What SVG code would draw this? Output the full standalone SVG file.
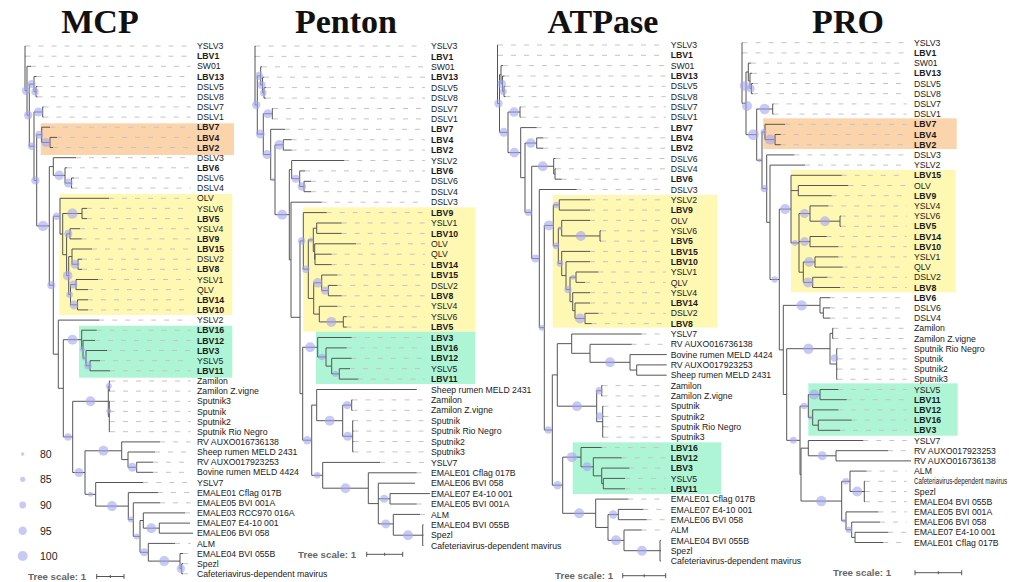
<svg xmlns="http://www.w3.org/2000/svg" width="1009" height="582" viewBox="0 0 1009 582">
<style>
.br{fill:none;stroke:#555;stroke-width:1}
.ld{fill:none;stroke:#c4c4c4;stroke-width:1;stroke-dasharray:5 8}
.bs{fill:#a5a5f0;fill-opacity:.6}
.lb{font-family:"Liberation Sans",Arial,sans-serif;font-size:8.7px;fill:#1a1a1a}
.b{font-weight:bold}
.tt{font-family:"Liberation Serif","Times New Roman",serif;font-size:34px;font-weight:bold;fill:#111;text-anchor:middle}
.sc{font-family:"Liberation Sans",Arial,sans-serif;font-size:9.7px;font-weight:bold;fill:#666}
.lg{font-family:"Liberation Sans",Arial,sans-serif;font-size:10.5px;fill:#222}
.or{fill:#fbd4ab}.ye{fill:#fff8b3}.gr{fill:#aef5d6}
</style>
<rect width="1009" height="582" fill="#fff"/>

<g id="titles">
<text class="tt" x="100" y="33">MCP</text>
<text class="tt" x="346" y="33">Penton</text>
<text class="tt" x="603" y="33">ATPase</text>
<text class="tt" x="848" y="33">PRO</text>
</g>

<g id="clade-boxes">
<rect class="or" x="40.7" y="123.3" width="193.3" height="31.7"/>
<rect class="ye" x="59.3" y="194" width="173" height="121"/>
<rect class="gr" x="79" y="325.7" width="153.3" height="52"/>
<rect class="ye" x="303.3" y="207.3" width="172" height="124.4"/>
<rect class="gr" x="316" y="331.7" width="159.3" height="52.3"/>
<rect class="ye" x="552.7" y="195" width="164.6" height="132.7"/>
<rect class="gr" x="572.7" y="442.3" width="148.6" height="51.7"/>
<rect class="or" x="763.3" y="118.3" width="193.4" height="30.7"/>
<rect class="ye" x="791" y="170" width="164.7" height="122.3"/>
<rect class="gr" x="808.3" y="383.3" width="149.4" height="52.4"/>
</g>

<g id="connectors">
<path id="mcp-leaders" class="ld" d="M25.5 46H190.7M25.5 56.2H190.7M31 66.3H190.7M36.5 76.5H190.7M37.5 86.6H190.7M37.5 96.8H190.7M43.5 106.9H190.7M43.5 117.1H190.7M50 127.2H190.7M57 137.4H190.7M53 147.5H190.7M76 157.7H190.7M67 167.8H190.7M74 178H190.7M72.5 188.1H190.7M109 198.3H190.7M87 208.4H190.7M87 218.6H190.7M80 228.7H190.7M81.7 238.9H190.7M92 249H190.7M82 259.2H190.7M82 269.3H190.7M98 279.5H190.7M88 289.6H190.7M88 299.8H190.7M88 309.9H190.7M99.3 320.1H190.7M96.7 330.2H190.7M95 340.4H190.7M107 350.5H190.7M100 360.7H190.7M110 370.8H190.7M110 381H190.7M110 391.1H190.7M110 401.3H190.7M110 411.4H190.7M110 421.6H190.7M110 431.7H190.7M160 441.9H190.7M155 452H190.7M153 462.2H190.7M153 472.3H190.7M143.3 482.5H190.7M158 492.6H190.7M160 502.8H190.7M185 512.9H190.7M175 543.4H190.7M183 553.5H190.7M183 563.7H190.7M183 573.8H190.7"/>
<path id="mcp-branches" class="br" d="M25 46V90.7M25 46H25.5M25 56.2H25.5M25 90.7H27M27 66.3V115.15M27 66.3H31M27 115.15H29.3M29.3 84.1V146.2M29.3 84.1H34M29.3 146.2H34M34 76.5V91.7M34 76.5H36.5M34 91.7H36M36 86.6V96.8M36 86.6H37.5M36 96.8H37.5M34 112V180.35M34 112H42.7M34 180.35H36.7M42.7 106.9V117.1M42.7 106.9H43.5M42.7 117.1H43.5M36.7 134.8V225.9M36.7 134.8H41.7M36.7 225.9H49.3M41.7 127.2V142.45M41.7 127.2H50M41.7 142.45H50M50 137.4V147.5M50 137.4H57M50 147.5H53M49.3 166.6V285.2M49.3 166.6H53.3M49.3 285.2H53.3M53.3 157.7V175.4M53.3 157.7H76M53.3 175.4H65M65 167.8V183.05M65 167.8H67M65 183.05H71.5M71.5 178V188.1M71.5 178H74M71.5 188.1H72.5M53.3 216.2V354.2M53.3 216.2H60M53.3 354.2H58.3M60 198.3V234.1M60 198.3H109M60 234.1H62.7M62.7 213.5V254.7M62.7 213.5H82M62.7 254.7H66.6M82 208.4V218.6M82 208.4H87M82 218.6H87M66.6 233.8V275.65M66.6 233.8H70M66.6 275.65H68.7M70 228.7V238.9M70 228.7H80M70 238.9H81.7M68.7 256.6V294.7M68.7 256.6H72M68.7 294.7H70.5M72 249V264.25M72 249H92M72 264.25H78M78 259.2V269.3M78 259.2H82M78 269.3H82M70.5 284.55V304.85M70.5 284.55H76M70.5 304.85H77.5M76 279.5V289.6M76 279.5H98M76 289.6H88M77.5 299.8V309.9M77.5 299.8H88M77.5 309.9H88M58.3 320.1V388.3M58.3 320.1H99.3M58.3 388.3H63.3M63.3 339.7V436.9M63.3 339.7H81.7M63.3 436.9H72.7M81.7 330.2V349.25M81.7 330.2H96.7M81.7 349.25H83M83 340.4V358.1M83 340.4H95M83 358.1H86M86 350.5V365.75M86 350.5H107M86 365.75H90M90 360.7V370.8M90 360.7H100M90 370.8H110M72.7 401.3V472.5M72.7 401.3H108.3M72.7 472.5H85M108.3 386.05V416.5M108.3 386.05H109.3M108.3 416.5H109.3M109.3 381V391.1M109.3 381H110M109.3 391.1H110M109.3 401.3V431.7M109.3 401.3H110M109.3 411.4H110M109.3 421.6H110M109.3 431.7H110M85 450.8V494.3M85 450.8H121.7M85 494.3H95.7M121.7 441.9V459.6M121.7 441.9H160M121.7 459.6H128M128 452V467.25M128 452H155M128 467.25H136.7M136.7 462.2V472.3M136.7 462.2H153M136.7 472.3H153M95.7 482.5V506.1M95.7 482.5H143.3M95.7 506.1H128.3M128.3 492.6V519.6M128.3 492.6H158M128.3 519.6H133.3M133.3 502.8V536.4M133.3 502.8H160M133.3 536.4H140M140 520.5V552.3M140 520.5H143.3M140 552.3H148.3M143.3 512.9V528.15M143.3 512.9H185M143.3 528.15H159.3M159.3 523.1V533.2M159.3 523.1H190M159.3 533.2H193M148.3 543.4V561.1M148.3 543.4H175M148.3 561.1H180M180 553.5V568.75M180 553.5H183M180 568.75H181.7M181.7 563.7V573.8M181.7 563.7H183M181.7 573.8H183"/>

<path id="penton-leaders" class="ld" d="M255.5 46H425M255.5 56.4H425M262 66.8H425M264 77.2H425M266 87.6H425M266 98.1H425M273 108.5H425M273 118.9H425M285 129.3H425M291.7 139.7H425M291.7 150.1H425M344.3 160.5H425M305 170.9H425M311 181.3H425M311 191.7H425M321.7 202.2H425M326.7 212.6H425M341.7 223H425M341.7 233.4H425M356 243.8H425M331.7 254.2H425M331.7 264.6H425M337.3 275H425M337.3 285.4H425M341.7 295.8H425M337.3 306.3H425M346.7 316.7H425M346.7 327.1H425M351.7 337.5H425M346.7 347.9H425M351.7 358.3H425M350 368.7H425M358.3 379.1H425M352.5 399.9H425M352.5 410.3H425M353.5 420.7H425M353.5 431.1H425M353.5 441.5H425M353.5 451.9H425M380 462.4H425M416.7 472.8H425M416.7 504H425M420 514.4H425"/>
<path id="penton-branches" class="br" d="M255 46V105M255 46H255.5M255 56.4H255.5M255 105H257.3M257.3 75.9V134.1M257.3 75.9H260.7M257.3 134.1H263.3M260.7 66.8V85M260.7 66.8H262M260.7 85H262.5M262.5 77.2V92.85M262.5 77.2H264M262.5 92.85H264M264 87.6V98.1M264 87.6H266M264 98.1H266M263.3 113.7V154.55M263.3 113.7H272.3M263.3 154.55H270.7M272.3 108.5V118.9M272.3 108.5H273M272.3 118.9H273M270.7 129.3V179.8M270.7 129.3H285M270.7 179.8H275M275 144.9V214.7M275 144.9H283.3M275 214.7H289.3M283.3 139.7V150.1M283.3 139.7H291.7M283.3 150.1H291.7M289.3 169.6V259.8M289.3 169.6H291.7M289.3 259.8H291M291.7 160.5V178.7M291.7 160.5H344.3M291.7 178.7H299.7M299.7 170.9V186.5M299.7 170.9H305M299.7 186.5H304M304 181.3V191.7M304 181.3H311M304 191.7H311M291 202.2V317.3M291 202.2H321.7M291 317.3H300M300 240.9V393.7M300 240.9H303.3M300 393.7H302.7M303.3 212.6V269.2M303.3 212.6H326.7M303.3 269.2H308.3M308.3 239.9V298.45M308.3 239.9H313.3M308.3 298.45H313.7M313.3 228.2V251.6M313.3 228.2H316.7M313.3 251.6H314.7M316.7 223V233.4M316.7 223H341.7M316.7 233.4H341.7M314.7 243.8V259.4M314.7 243.8H356M314.7 259.4H315M315 254.2V264.6M315 254.2H331.7M315 264.6H331.7M313.7 282.8V314.1M313.7 282.8H321.7M313.7 314.1H319.3M321.7 275V290.6M321.7 275H337.3M321.7 290.6H328.3M328.3 285.4V295.8M328.3 285.4H337.3M328.3 295.8H341.7M319.3 306.3V321.9M319.3 306.3H337.3M319.3 321.9H343.3M343.3 316.7V327.1M343.3 316.7H346.7M343.3 327.1H346.7M302.7 347.25V440.2M302.7 347.25H317.7M302.7 440.2H311.7M317.7 337.5V357M317.7 337.5H351.7M317.7 357H326M326 347.9V366.1M326 347.9H346.7M326 366.1H331.7M331.7 358.3V373.9M331.7 358.3H351.7M331.7 373.9H339.3M339.3 368.7V379.1M339.3 368.7H350M339.3 379.1H358.3M311.7 405.1V475.3M311.7 405.1H316.7M311.7 475.3H322.7M316.7 389.5V420.7M316.7 389.5H416.7M316.7 420.7H342.7M342.7 405.1V436.3M342.7 405.1H351.7M342.7 436.3H352.7M351.7 399.9V410.3M351.7 399.9H352.5M351.7 410.3H352.5M352.7 420.7V451.9M352.7 420.7H353.5M352.7 431.1H353.5M352.7 441.5H353.5M352.7 451.9H353.5M322.7 462.4V488.2M322.7 462.4H380M322.7 488.2H368.3M368.3 472.8V503.6M368.3 472.8H416.7M368.3 503.6H378.3M378.3 483.2V523.9M378.3 483.2H415M378.3 498.8H390M378.3 523.9H393.3M390 493.6V504M390 493.6H430M390 504H416.7M393.3 514.4V535.2M393.3 514.4H420M393.3 535.2H422.7M422.7 524.8V545.6M422.7 524.8H423.5M422.7 535.2H423.5M422.7 545.6H423.5"/>

<path id="atpase-leaders" class="ld" d="M498 45H665.7M498 55.3H665.7M503 65.6H665.7M504.5 76H665.7M505.5 86.3H665.7M505.5 96.6H665.7M520.7 106.9H665.7M520.7 117.2H665.7M536.7 127.6H665.7M543.3 137.9H665.7M543.3 148.2H665.7M555.5 158.5H665.7M556 168.8H665.7M561.7 179.2H665.7M576.7 189.5H665.7M590 199.8H665.7M590 210.1H665.7M590 220.4H665.7M601 230.8H665.7M601 241.1H665.7M590 251.4H665.7M590 261.7H665.7M598.3 272H665.7M585 282.4H665.7M590 292.7H665.7M590 303H665.7M598.3 313.3H665.7M591.7 323.6H665.7M641.7 334H665.7M631.7 344.3H665.7M602.5 385.6H665.7M602.5 395.9H665.7M603.5 406.2H665.7M603.5 416.5H665.7M603.5 426.8H665.7M603.5 437.2H665.7M601.7 447.5H665.7M621.7 457.8H665.7M629.3 468.1H665.7M625 478.4H665.7M625 488.8H665.7M628.3 499.1H665.7M643.3 509.4H665.7M646.7 519.7H665.7M641.7 530H665.7"/>
<path id="atpase-branches" class="br" d="M497.5 45V103.5M497.5 45H498M497.5 55.3H498M497.5 103.5H499.5M499.5 74.7V132.35M499.5 74.7H501M499.5 132.35H508M501 65.6V83.7M501 65.6H503M501 83.7H502.5M502.5 76V91.45M502.5 76H504.5M502.5 91.45H504M504 86.3V96.6M504 86.3H505.5M504 96.6H505.5M508 112.05V152.65M508 112.05H520M508 152.65H520.7M520 106.9V117.2M520 106.9H520.7M520 117.2H520.7M520.7 127.6V177.7M520.7 127.6H536.7M520.7 177.7H525M525 143.05V212.4M525 143.05H536.7M525 212.4H531.7M536.7 137.9V148.2M536.7 137.9H543.3M536.7 148.2H543.3M531.7 166.25V258.6M531.7 166.25H553.7M531.7 258.6H539.3M553.7 158.5V174M553.7 158.5H555.5M553.7 174H555M555 168.8V179.2M555 168.8H556M555 179.2H561.7M539.3 189.5V327.7M539.3 189.5H576.7M539.3 327.7H544.3M544.3 225.4V430.05M544.3 225.4H553.3M544.3 430.05H552.3M553.3 204.95V245.85M553.3 204.95H559.3M553.3 245.85H558.3M559.3 199.8V210.1M559.3 199.8H590M559.3 210.1H590M558.3 228.2V263.5M558.3 228.2H561.7M558.3 263.5H561.7M561.7 220.4V235.95M561.7 220.4H590M561.7 235.95H600M600 230.8V241.1M600 230.8H601M600 241.1H601M561.7 251.4V275.6M561.7 251.4H590M561.7 275.6H566M566 261.7V289.45M566 261.7H590M566 289.45H570M570 277.2V301.7M570 277.2H576M570 301.7H572.7M576 272V282.4M576 272H598.3M576 282.4H585M572.7 292.7V310.7M572.7 292.7H590M572.7 310.7H575M575 303V318.45M575 303H590M575 318.45H585M585 313.3V323.6M585 313.3H598.3M585 323.6H591.7M552.3 374.9V485.2M552.3 374.9H557.3M552.3 485.2H562.7M557.3 343.65V406.2M557.3 343.65H571.7M557.3 406.2H596.7M571.7 334V353.3M571.7 334H641.7M571.7 353.3H590M590 344.3V362.3M590 344.3H631.7M590 362.3H630M630 354.6V370.05M630 354.6H666.7M630 370.05H636.7M636.7 364.9V375.2M636.7 364.9H666.7M636.7 375.2H666.7M596.7 390.75V421.7M596.7 390.75H601.7M596.7 421.7H602.7M601.7 385.6V395.9M601.7 385.6H602.5M601.7 395.9H602.5M602.7 406.2V437.2M602.7 406.2H603.5M602.7 416.5H603.5M602.7 426.8H603.5M602.7 437.2H603.5M562.7 457.15V513.3M562.7 457.15H581M562.7 513.3H595.7M581 447.5V466.8M581 447.5H601.7M581 466.8H593.3M593.3 457.8V475.85M593.3 457.8H621.7M593.3 475.85H601.7M601.7 468.1V483.6M601.7 468.1H629.3M601.7 483.6H603.3M603.3 478.4V488.8M603.3 478.4H625M603.3 488.8H625M595.7 499.1V527.45M595.7 499.1H628.3M595.7 527.45H608M608 514.55V540.35M608 514.55H618.3M608 540.35H624M618.3 509.4V519.7M618.3 509.4H643.3M618.3 519.7H646.7M624 530V550.7M624 530H641.7M624 550.7H660M660 540.4V561M660 540.4H661M660 550.7H661M660 561H661"/>

<path id="pro-leaders" class="ld" d="M742.5 42.7H906.7M742.5 52.9H906.7M751 63.1H906.7M752 73.3H906.7M753 83.5H906.7M753 93.7H906.7M773.5 103.9H906.7M773.5 114.1H906.7M785 124.3H906.7M780.7 134.5H906.7M780.7 144.7H906.7M794.3 154.9H906.7M805 165.1H906.7M841.7 175.3H906.7M848.3 185.5H906.7M831.7 195.7H906.7M828.3 205.9H906.7M841 216.1H906.7M841 226.3H906.7M826.7 236.5H906.7M838.3 246.7H906.7M838.3 256.9H906.7M842.7 267.1H906.7M827.3 277.3H906.7M840 287.5H906.7M830 297.7H906.7M830 307.9H906.7M830 318.1H906.7M833.5 328.3H906.7M833.5 338.5H906.7M837.5 348.7H906.7M837.5 358.9H906.7M837.5 369.1H906.7M837.5 379.3H906.7M838.3 389.5H906.7M846.7 399.7H906.7M838.3 409.9H906.7M851.7 420.1H906.7M840 430.3H906.7M863.3 440.5H906.7M888 450.7H906.7M866.7 471.1H906.7M865 481.3H906.7M865 491.5H906.7M865 501.7H906.7M878.3 511.9H906.7M880 522.1H906.7M888.3 532.3H906.7M883.3 542.5H906.7"/>
<path id="pro-branches" class="br" d="M742 42.7V103.3M742 42.7H742.5M742 52.9H742.5M742 103.3H746M746 72V134.65M746 72H748.3M746 134.65H756.7M748.3 63.1V80.95M748.3 63.1H751M748.3 80.95H750M750 73.3V88.6M750 73.3H752M750 88.6H751.5M751.5 83.5V93.7M751.5 83.5H753M751.5 93.7H753M756.7 109V160.3M756.7 109H772.7M756.7 160.3H762M772.7 103.9V114.1M772.7 103.9H773.5M772.7 114.1H773.5M762 131.95V188.6M762 131.95H765M762 188.6H766.7M765 124.3V139.6M765 124.3H785M765 139.6H775M775 134.5V144.7M775 134.5H780.7M775 144.7H780.7M766.7 154.9V222.3M766.7 154.9H794.3M766.7 222.3H770M770 165.1V279.5M770 165.1H805M770 279.5H779.3M779.3 209.1V349.9M779.3 209.1H791M779.3 349.9H783.3M791 175.3V242.9M791 175.3H841.7M791 190.6H798.3M791 242.9H799M798.3 185.5V195.7M798.3 185.5H848.3M798.3 195.7H831.7M799 213.55V272.2M799 213.55H810M799 241.6H810M799 272.2H803.3M810 205.9V221.2M810 205.9H828.3M810 221.2H840M840 216.1V226.3M840 216.1H841M840 226.3H841M810 236.5V246.7M810 236.5H826.7M810 246.7H838.3M803.3 262V282.4M803.3 262H815M803.3 282.4H812.7M815 256.9V267.1M815 256.9H838.3M815 267.1H842.7M812.7 277.3V287.5M812.7 277.3H827.3M812.7 287.5H840M783.3 305.35V394.5M783.3 305.35H820M783.3 394.5H786.7M820 297.7V313M820 297.7H830M820 313H823.3M823.3 307.9V318.1M823.3 307.9H830M823.3 318.1H830M786.7 348.7V440.35M786.7 348.7H830M786.7 440.35H800M830 333.4V364M830 333.4H832.7M830 364H836.7M832.7 328.3V338.5M832.7 328.3H833.5M832.7 338.5H833.5M836.7 348.7V379.3M836.7 348.7H837.5M836.7 358.9H837.5M836.7 369.1H837.5M836.7 379.3H837.5M800 406.1V474.6M800 406.1H808.3M800 474.6H801M808.3 394.6V417.55M808.3 394.6H820M808.3 417.55H812.7M820 389.5V399.7M820 389.5H838.3M820 399.7H846.7M812.7 409.9V425.2M812.7 409.9H838.3M812.7 425.2H818.3M818.3 420.1V430.3M818.3 420.1H851.7M818.3 430.3H840M801 448.15V501.05M801 448.15H808.3M801 501.05H841.7M808.3 440.5V455.8M808.3 440.5H863.3M808.3 455.8H836M836 450.7V460.9M836 450.7H888M836 460.9H911M841.7 481.3V520.8M841.7 481.3H850M841.7 520.8H846M850 471.1V491.5M850 471.1H866.7M850 491.5H864.3M864.3 481.3V501.7M864.3 481.3H865M864.3 491.5H865M864.3 501.7H865M846 511.9V529.75M846 511.9H878.3M846 529.75H851.7M851.7 522.1V537.4M851.7 522.1H880M851.7 537.4H855M855 532.3V542.5M855 532.3H888.3M855 542.5H883.3"/>
</g>

<g id="bootstrap">
<circle class="bs" cx="26" cy="90.7" r="4.2"/><circle class="bs" cx="31.7" cy="84.1" r="4"/><circle class="bs" cx="35" cy="91.7" r="3.8"/><circle class="bs" cx="38.4" cy="112" r="4.5"/><circle class="bs" cx="28.2" cy="115.2" r="4.2"/><circle class="bs" cx="39.2" cy="134.8" r="4"/><circle class="bs" cx="45.9" cy="142.5" r="4.5"/><circle class="bs" cx="31.7" cy="146.2" r="3.7"/><circle class="bs" cx="35.4" cy="180.4" r="4.2"/><circle class="bs" cx="59.2" cy="175.4" r="4.8"/><circle class="bs" cx="68.3" cy="183" r="4.5"/><circle class="bs" cx="72.4" cy="213.5" r="5.2"/><circle class="bs" cx="56.7" cy="216.2" r="3.7"/><circle class="bs" cx="43" cy="225.9" r="5.2"/><circle class="bs" cx="51.3" cy="285.2" r="4"/><circle class="bs" cx="68.3" cy="233.8" r="4"/><circle class="bs" cx="75" cy="264.3" r="4.5"/><circle class="bs" cx="67.7" cy="275.7" r="4.8"/><circle class="bs" cx="73.3" cy="284.6" r="4"/><circle class="bs" cx="69.6" cy="294.7" r="3.3"/><circle class="bs" cx="74" cy="304.9" r="4.5"/><circle class="bs" cx="72.5" cy="339.7" r="5"/><circle class="bs" cx="82.4" cy="349.3" r="2.5"/><circle class="bs" cx="84.5" cy="358.1" r="2.5"/><circle class="bs" cx="88" cy="365.8" r="3.7"/><circle class="bs" cx="108.8" cy="386" r="3"/><circle class="bs" cx="90.5" cy="401.3" r="5"/><circle class="bs" cx="108.8" cy="411" r="2.5"/><circle class="bs" cx="68" cy="436.9" r="3.7"/><circle class="bs" cx="103.4" cy="450.8" r="5"/><circle class="bs" cx="78.9" cy="472.5" r="4.5"/><circle class="bs" cx="132.3" cy="467.3" r="4.5"/><circle class="bs" cx="90.4" cy="494.3" r="2.5"/><circle class="bs" cx="112" cy="506.1" r="5"/><circle class="bs" cx="130.8" cy="519.6" r="3"/><circle class="bs" cx="136.7" cy="536.4" r="3"/><circle class="bs" cx="151.3" cy="528.2" r="5"/><circle class="bs" cx="144.2" cy="552.3" r="4"/><circle class="bs" cx="164.2" cy="561.1" r="5"/><circle class="bs" cx="180.9" cy="568.8" r="4.2"/>
<circle class="bs" cx="256.2" cy="105" r="4.2"/><circle class="bs" cx="259" cy="75.9" r="4.2"/><circle class="bs" cx="261.6" cy="85" r="4"/><circle class="bs" cx="263.3" cy="92.9" r="3.3"/><circle class="bs" cx="267.8" cy="113.7" r="4.5"/><circle class="bs" cx="260.3" cy="134.1" r="4.5"/><circle class="bs" cx="267" cy="154.6" r="4.5"/><circle class="bs" cx="279.2" cy="144.9" r="4.8"/><circle class="bs" cx="272.9" cy="179.8" r="1.8"/><circle class="bs" cx="282.2" cy="214.7" r="5"/><circle class="bs" cx="295.7" cy="178.7" r="4"/><circle class="bs" cx="301.9" cy="186.5" r="4.2"/><circle class="bs" cx="301.7" cy="240.9" r="3.7"/><circle class="bs" cx="310.8" cy="239.9" r="2.5"/><circle class="bs" cx="305.8" cy="269.2" r="3.7"/><circle class="bs" cx="317.7" cy="282.8" r="4.8"/><circle class="bs" cx="325" cy="290.6" r="4.2"/><circle class="bs" cx="331.3" cy="321.9" r="5"/><circle class="bs" cx="310.2" cy="347.3" r="5"/><circle class="bs" cx="321.9" cy="357" r="3.3"/><circle class="bs" cx="335.5" cy="373.9" r="3"/><circle class="bs" cx="329.7" cy="420.7" r="5"/><circle class="bs" cx="347.2" cy="405.1" r="4.2"/><circle class="bs" cx="347.7" cy="436.3" r="4.5"/><circle class="bs" cx="307.2" cy="440.2" r="4.2"/><circle class="bs" cx="317.2" cy="475.3" r="3.3"/><circle class="bs" cx="345.5" cy="488.2" r="5"/><circle class="bs" cx="384.2" cy="498.8" r="4"/><circle class="bs" cx="385.8" cy="523.9" r="4.5"/><circle class="bs" cx="408" cy="535.2" r="5"/>
<circle class="bs" cx="498.5" cy="103.5" r="4.2"/><circle class="bs" cx="501.75" cy="83.7" r="4.2"/><circle class="bs" cx="503.25" cy="91.45" r="3.5"/><circle class="bs" cx="503.75" cy="132.35" r="4.5"/><circle class="bs" cx="514" cy="112.05" r="4.8"/><circle class="bs" cx="514.35" cy="152.65" r="4.8"/><circle class="bs" cx="530.85" cy="143.05" r="4.8"/><circle class="bs" cx="528.35" cy="212.4" r="3.5"/><circle class="bs" cx="542.7" cy="166.25" r="5"/><circle class="bs" cx="535.5" cy="258.6" r="4"/><circle class="bs" cx="541.8" cy="327.7" r="3"/><circle class="bs" cx="548.8" cy="225.4" r="5"/><circle class="bs" cx="556.3" cy="204.95" r="3.3"/><circle class="bs" cx="560" cy="228.2" r="2"/><circle class="bs" cx="580.85" cy="235.95" r="5"/><circle class="bs" cx="556" cy="245.85" r="3.3"/><circle class="bs" cx="560" cy="263.5" r="3.3"/><circle class="bs" cx="573" cy="277.2" r="2.5"/><circle class="bs" cx="568" cy="289.45" r="3.7"/><circle class="bs" cx="580" cy="318.45" r="5"/><circle class="bs" cx="610" cy="362.3" r="5"/><circle class="bs" cx="548.3" cy="430.05" r="3.7"/><circle class="bs" cx="577" cy="406.2" r="5"/><circle class="bs" cx="599.2" cy="390.75" r="3.7"/><circle class="bs" cx="599.7" cy="416" r="3.7"/><circle class="bs" cx="557.5" cy="485.2" r="4.2"/><circle class="bs" cx="571.85" cy="457.15" r="5"/><circle class="bs" cx="587.15" cy="466.8" r="4.5"/><circle class="bs" cx="579.2" cy="513.3" r="5"/><circle class="bs" cx="613.15" cy="514.55" r="4.2"/><circle class="bs" cx="616" cy="540.35" r="5"/><circle class="bs" cx="642" cy="550.7" r="5"/>
<circle class="bs" cx="744.5" cy="86" r="4.8"/><circle class="bs" cx="747" cy="106" r="5"/><circle class="bs" cx="750.7" cy="88.6" r="4"/><circle class="bs" cx="753.35" cy="134.65" r="5.5"/><circle class="bs" cx="764.7" cy="109" r="5.2"/><circle class="bs" cx="763.5" cy="131.95" r="3"/><circle class="bs" cx="770" cy="139.6" r="5"/><circle class="bs" cx="759.35" cy="160.3" r="2"/><circle class="bs" cx="764.35" cy="188.6" r="3.7"/><circle class="bs" cx="774.65" cy="279.5" r="3.3"/><circle class="bs" cx="785.15" cy="209.1" r="5"/><circle class="bs" cx="795" cy="242.9" r="3"/><circle class="bs" cx="804.5" cy="213.55" r="4.5"/><circle class="bs" cx="825" cy="221.2" r="5"/><circle class="bs" cx="804.5" cy="241.6" r="4.5"/><circle class="bs" cx="809.15" cy="262" r="5"/><circle class="bs" cx="808" cy="282.4" r="5"/><circle class="bs" cx="801.65" cy="305.35" r="5.2"/><circle class="bs" cx="808.35" cy="348.7" r="5.2"/><circle class="bs" cx="834.5" cy="358" r="3.7"/><circle class="bs" cx="814.15" cy="394.6" r="5"/><circle class="bs" cx="804.15" cy="406.1" r="3.3"/><circle class="bs" cx="810.5" cy="417.55" r="2"/><circle class="bs" cx="793.35" cy="440.35" r="3.5"/><circle class="bs" cx="822.15" cy="455.8" r="4.5"/><circle class="bs" cx="821.35" cy="501.05" r="5.2"/><circle class="bs" cx="845.85" cy="481.3" r="3.3"/><circle class="bs" cx="857.15" cy="491.5" r="5"/><circle class="bs" cx="843.85" cy="520.8" r="2"/><circle class="bs" cx="848.85" cy="529.75" r="3.3"/>
</g>

<g id="mcp-labels" class="lb">
<text x="197" y="49.1">YSLV3</text><text x="197" y="59.3" class="b">LBV1</text><text x="197" y="69.4">SW01</text><text x="197" y="79.6" class="b">LBV13</text><text x="197" y="89.7">DSLV5</text><text x="197" y="99.9">DSLV8</text><text x="197" y="110">DSLV7</text><text x="197" y="120.2">DSLV1</text><text x="197" y="130.3" class="b">LBV7</text><text x="197" y="140.5" class="b">LBV4</text><text x="197" y="150.6" class="b">LBV2</text><text x="197" y="160.8">DSLV3</text><text x="197" y="170.9" class="b">LBV6</text><text x="197" y="181.1">DSLV6</text><text x="197" y="191.2">DSLV4</text><text x="197" y="201.4">OLV</text><text x="197" y="211.5">YSLV6</text><text x="197" y="221.7" class="b">LBV5</text><text x="197" y="231.8">YSLV4</text><text x="197" y="242" class="b">LBV9</text><text x="197" y="252.1" class="b">LBV15</text><text x="197" y="262.3">DSLV2</text><text x="197" y="272.4" class="b">LBV8</text><text x="197" y="282.6">YSLV1</text><text x="197" y="292.7">QLV</text><text x="197" y="302.9" class="b">LBV14</text><text x="197" y="313" class="b">LBV10</text><text x="197" y="323.2">YSLV2</text><text x="197" y="333.3" class="b">LBV16</text><text x="197" y="343.5" class="b">LBV12</text><text x="197" y="353.6" class="b">LBV3</text><text x="197" y="363.8">YSLV5</text><text x="197" y="373.9" class="b">LBV11</text><text x="197" y="384.1">Zamilon</text><text x="197" y="394.2">Zamilon Z.vigne</text><text x="197" y="404.4">Sputnik3</text><text x="197" y="414.5">Sputnik</text><text x="197" y="424.7">Sputnik2</text><text x="197" y="434.8">Sputnik Rio Negro</text><text x="197" y="445">RV AUXO016736138</text><text x="197" y="455.1">Sheep rumen MELD 2431</text><text x="197" y="465.3">RV AUXO017923253</text><text x="197" y="475.4">Bovine rumen MELD 4424</text><text x="197" y="485.6">YSLV7</text><text x="197" y="495.7">EMALE01 Cflag 017B</text><text x="197" y="505.9">EMALE05 BVI 001A</text><text x="197" y="516">EMALE03 RCC970 016A</text><text x="197" y="526.2">EMALE07 E4-10 001</text><text x="197" y="536.3">EMALE06 BVI 058</text><text x="197" y="546.5">ALM</text><text x="197" y="556.6">EMALE04 BVI 055B</text><text x="197" y="566.8">Spezl</text><text x="197" y="576.9">Cafeteriavirus-dependent mavirus</text>
</g>

<g id="penton-labels" class="lb">
<text x="431" y="49.1">YSLV3</text><text x="431" y="59.5" class="b">LBV1</text><text x="431" y="69.9">SW01</text><text x="431" y="80.3" class="b">LBV13</text><text x="431" y="90.7">DSLV5</text><text x="431" y="101.2">DSLV8</text><text x="431" y="111.6">DSLV7</text><text x="431" y="122">DSLV1</text><text x="431" y="132.4" class="b">LBV7</text><text x="431" y="142.8" class="b">LBV4</text><text x="431" y="153.2" class="b">LBV2</text><text x="431" y="163.6">YSLV2</text><text x="431" y="174" class="b">LBV6</text><text x="431" y="184.4">DSLV6</text><text x="431" y="194.8">DSLV4</text><text x="431" y="205.3">DSLV3</text><text x="431" y="215.7" class="b">LBV9</text><text x="431" y="226.1">YSLV1</text><text x="431" y="236.5" class="b">LBV10</text><text x="431" y="246.9">OLV</text><text x="431" y="257.3">QLV</text><text x="431" y="267.7" class="b">LBV14</text><text x="431" y="278.1" class="b">LBV15</text><text x="431" y="288.5">DSLV2</text><text x="431" y="298.9" class="b">LBV8</text><text x="431" y="309.4">YSLV4</text><text x="431" y="319.8">YSLV6</text><text x="431" y="330.2" class="b">LBV5</text><text x="431" y="340.6" class="b">LBV3</text><text x="431" y="351" class="b">LBV16</text><text x="431" y="361.4" class="b">LBV12</text><text x="431" y="371.8">YSLV5</text><text x="431" y="382.2" class="b">LBV11</text><text x="431" y="392.6">Sheep rumen MELD 2431</text><text x="431" y="403">Zamilon</text><text x="431" y="413.4">Zamilon Z.vigne</text><text x="431" y="423.8">Sputnik</text><text x="431" y="434.2">Sputnik Rio Negro</text><text x="431" y="444.6">Sputnik2</text><text x="431" y="455">Sputnik3</text><text x="431" y="465.5">YSLV7</text><text x="431" y="475.9">EMALE01 Cflag 017B</text><text x="431" y="486.3">EMALE06 BVI 058</text><text x="431" y="496.7">EMALE07 E4-10 001</text><text x="431" y="507.1">EMALE05 BVI 001A</text><text x="431" y="517.5">ALM</text><text x="431" y="527.9">EMALE04 BVI 055B</text><text x="431" y="538.3">Spezl</text><text x="431" y="548.7">Cafeteriavirus-dependent mavirus</text>
</g>

<g id="atpase-labels" class="lb">
<text x="670.7" y="48.1">YSLV3</text><text x="670.7" y="58.4" class="b">LBV1</text><text x="670.7" y="68.7">SW01</text><text x="670.7" y="79.1" class="b">LBV13</text><text x="670.7" y="89.4">DSLV5</text><text x="670.7" y="99.7">DSLV8</text><text x="670.7" y="110">DSLV7</text><text x="670.7" y="120.3">DSLV1</text><text x="670.7" y="130.7" class="b">LBV7</text><text x="670.7" y="141" class="b">LBV4</text><text x="670.7" y="151.3" class="b">LBV2</text><text x="670.7" y="161.6">DSLV6</text><text x="670.7" y="171.9">DSLV4</text><text x="670.7" y="182.3" class="b">LBV6</text><text x="670.7" y="192.6">DSLV3</text><text x="670.7" y="202.9">YSLV2</text><text x="670.7" y="213.2" class="b">LBV9</text><text x="670.7" y="223.5">OLV</text><text x="670.7" y="233.9">YSLV6</text><text x="670.7" y="244.2" class="b">LBV5</text><text x="670.7" y="254.5" class="b">LBV15</text><text x="670.7" y="264.8" class="b">LBV10</text><text x="670.7" y="275.1">YSLV1</text><text x="670.7" y="285.5">QLV</text><text x="670.7" y="295.8">YSLV4</text><text x="670.7" y="306.1" class="b">LBV14</text><text x="670.7" y="316.4">DSLV2</text><text x="670.7" y="326.7" class="b">LBV8</text><text x="670.7" y="337.1">YSLV7</text><text x="670.7" y="347.4">RV AUXO016736138</text><text x="670.7" y="357.7">Bovine rumen MELD 4424</text><text x="670.7" y="368">RV AUXO017923253</text><text x="670.7" y="378.3">Sheep rumen MELD 2431</text><text x="670.7" y="388.7">Zamilon</text><text x="670.7" y="399">Zamilon Z.vigne</text><text x="670.7" y="409.3">Sputnik</text><text x="670.7" y="419.6">Sputnik2</text><text x="670.7" y="429.9">Sputnik Rio Negro</text><text x="670.7" y="440.3">Sputnik3</text><text x="670.7" y="450.6" class="b">LBV16</text><text x="670.7" y="460.9" class="b">LBV12</text><text x="670.7" y="471.2" class="b">LBV3</text><text x="670.7" y="481.5">YSLV5</text><text x="670.7" y="491.9" class="b">LBV11</text><text x="670.7" y="502.2">EMALE01 Cflag 017B</text><text x="670.7" y="512.5">EMALE07 E4-10 001</text><text x="670.7" y="522.8">EMALE06 BVI 058</text><text x="670.7" y="533.1">ALM</text><text x="670.7" y="543.5">EMALE04 BVI 055B</text><text x="670.7" y="553.8">Spezl</text><text x="670.7" y="564.1">Cafeteriavirus-dependent mavirus</text>
</g>

<g id="pro-labels" class="lb">
<text x="914" y="45.8">YSLV3</text><text x="914" y="56" class="b">LBV1</text><text x="914" y="66.2">SW01</text><text x="914" y="76.4" class="b">LBV13</text><text x="914" y="86.6">DSLV5</text><text x="914" y="96.8">DSLV8</text><text x="914" y="107">DSLV7</text><text x="914" y="117.2">DSLV1</text><text x="914" y="127.4" class="b">LBV7</text><text x="914" y="137.6" class="b">LBV4</text><text x="914" y="147.8" class="b">LBV2</text><text x="914" y="158">DSLV3</text><text x="914" y="168.2">YSLV2</text><text x="914" y="178.4" class="b">LBV15</text><text x="914" y="188.6">OLV</text><text x="914" y="198.8" class="b">LBV9</text><text x="914" y="209">YSLV4</text><text x="914" y="219.2">YSLV6</text><text x="914" y="229.4" class="b">LBV5</text><text x="914" y="239.6" class="b">LBV14</text><text x="914" y="249.8" class="b">LBV10</text><text x="914" y="260">YSLV1</text><text x="914" y="270.2">QLV</text><text x="914" y="280.4">DSLV2</text><text x="914" y="290.6" class="b">LBV8</text><text x="914" y="300.8" class="b">LBV6</text><text x="914" y="311">DSLV6</text><text x="914" y="321.2">DSLV4</text><text x="914" y="331.4">Zamilon</text><text x="914" y="341.6">Zamilon Z.vigne</text><text x="914" y="351.8">Sputnik Rio Negro</text><text x="914" y="362">Sputnik</text><text x="914" y="372.2">Sputnik2</text><text x="914" y="382.4">Sputnik3</text><text x="914" y="392.6">YSLV5</text><text x="914" y="402.8" class="b">LBV11</text><text x="914" y="413" class="b">LBV12</text><text x="914" y="423.2" class="b">LBV16</text><text x="914" y="433.4" class="b">LBV3</text><text x="914" y="443.6">YSLV7</text><text x="914" y="453.8">RV AUXO017923253</text><text x="914" y="464">RV AUXO016736138</text><text x="914" y="474.2">ALM</text><text x="914" y="484.4" textLength="93" lengthAdjust="spacingAndGlyphs">Cafeteriavirus-dependent mavirus</text><text x="914" y="494.6">Spezl</text><text x="914" y="504.8">EMALE04 BVI 055B</text><text x="914" y="515">EMALE05 BVI 001A</text><text x="914" y="525.2">EMALE06 BVI 058</text><text x="914" y="535.4">EMALE07 E4-10 001</text><text x="914" y="545.6">EMALE01 Cflag 017B</text>
</g>

<g id="legend">
<circle class="bs" cx="22.7" cy="454" r="1.7"/><circle class="bs" cx="22.7" cy="479.3" r="2.6"/><circle class="bs" cx="22.7" cy="505" r="3.4"/><circle class="bs" cx="22.7" cy="530.7" r="4.2"/><circle class="bs" cx="22.7" cy="556" r="5"/>
<text class="lg" x="40" y="457.8">80</text><text class="lg" x="40" y="483.1">85</text><text class="lg" x="40" y="508.8">90</text><text class="lg" x="40" y="534.5">95</text><text class="lg" x="40" y="559.8">100</text>
</g>

<g id="tree-scales">
<text class="sc" x="28" y="579.5">Tree scale: 1</text>
<path class="br" d="M96.7 576.5H124M96.7 574V579M124 574V579M110.3 575V578"/>
<text class="sc" x="298" y="557.5">Tree scale: 1</text>
<path class="br" d="M366.7 554.3H402.7M366.7 551.8V556.8M402.7 551.8V556.8M384.7 552.8V555.8"/>
<text class="sc" x="555" y="579">Tree scale: 1</text>
<path class="br" d="M622.7 575.7H665.7M622.7 573.2V578.2M665.7 573.2V578.2M644.2 574.2V577.2"/>
<text class="sc" x="833" y="576">Tree scale: 1</text>
<path class="br" d="M915 572.7H961.7M915 570.2V575.2M961.7 570.2V575.2M938.3 571.2V574.2"/>
</g>
</svg>
